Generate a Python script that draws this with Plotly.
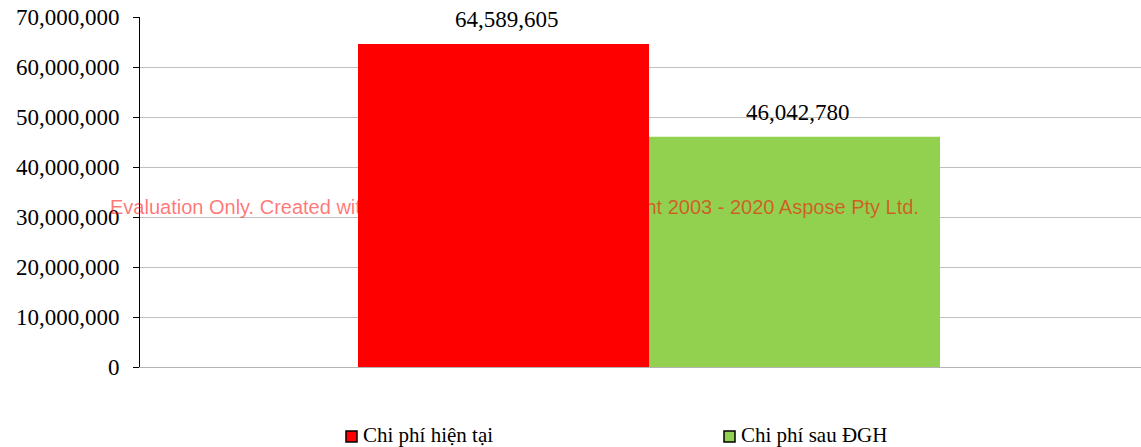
import plotly.graph_objects as go

series_names = ["Chi phí hiện tại", "Chi phí sau ĐGH"]
series_values = [64589605, 46042780]
series_colors = ["#FF0000", "#92D050"]
category = [0]
y_ticks = [0, 10000000, 20000000, 30000000, 40000000, 50000000, 60000000, 70000000]
watermark = "Evaluation Only. Created with Aspose.Cells for .NET.Copyright 2003 - 2020 Aspose Pty Ltd."

serif = "Liberation Serif, Times New Roman, serif"

W, H = 1141, 447
ML, MR, MT, MB = 140, 0, 17, 80
PW, PH = W - ML - MR, H - MT - MB


def px_x(p):
    return (p - ML) / PW


def px_y(p):
    return (H - MB - p) / PH


BARGAP = 0.4283
n = len(series_values)
bar_w = (1 - BARGAP) / n

fig = go.Figure()
for name, val, col in zip(series_names, series_values, series_colors):
    fig.add_trace(go.Bar(
        x=category, y=[val], name=name,
        marker=dict(color=col, line=dict(width=0)),
        showlegend=False,
    ))

annotations = []
# value labels above bars
for i, val in enumerate(series_values):
    xc = category[0] - (1 - BARGAP) / 2 + bar_w * (i + 0.5)
    annotations.append(dict(text=f"{val:,}", x=xc, y=val, xref="x", yref="y",
                            xanchor="center", yanchor="bottom", yshift=10, xshift=3,
                            showarrow=False,
                            font=dict(family=serif, size=23, color="black")))

# custom legend
shapes = []
legend_sym_left = [346, 724]
for i, (name, col) in enumerate(zip(series_names, series_colors)):
    x0 = legend_sym_left[i]
    shapes.append(dict(type="rect", xref="paper", yref="paper",
                       x0=px_x(x0), x1=px_x(x0 + 11), y0=px_y(442), y1=px_y(431),
                       fillcolor=col, line=dict(color="black", width=1.5)))
    annotations.append(dict(text=name, xref="paper", yref="paper",
                            x=px_x(x0 + 15), y=px_y(435), xanchor="left", yanchor="middle",
                            showarrow=False,
                            font=dict(family=serif, size=21, color="black")))

annotations.append(dict(text=watermark, xref="paper", yref="paper",
                        x=px_x(108), y=px_y(207),
                        xanchor="left", yanchor="middle", showarrow=False,
                        font=dict(family="Liberation Sans, Arial, sans-serif", size=20,
                                  color="rgba(255,0,0,0.55)")))

fig.update_layout(
    width=W, height=H,
    margin=dict(l=ML, r=MR, t=MT, b=MB),
    paper_bgcolor="white", plot_bgcolor="white",
    barmode="group", bargap=BARGAP, bargroupgap=0,
    showlegend=False,
    xaxis=dict(range=[-0.5, 0.4833], showticklabels=False, showgrid=False,
               zeroline=False, showline=True, linecolor="#b3b3b3", linewidth=1,
               ticks=""),
    yaxis=dict(range=[0, 70000000], tickvals=y_ticks, tickformat=",d",
               showgrid=True, gridcolor="#c0c0c0", gridwidth=1,
               zeroline=False, showline=True, linecolor="black", linewidth=1,
               ticks="outside", ticklen=6, tickcolor="black", ticklabelstandoff=9,
               tickfont=dict(family=serif, size=23, color="black")),
    annotations=annotations,
    shapes=shapes,
)

fig.write_html("out.html")
